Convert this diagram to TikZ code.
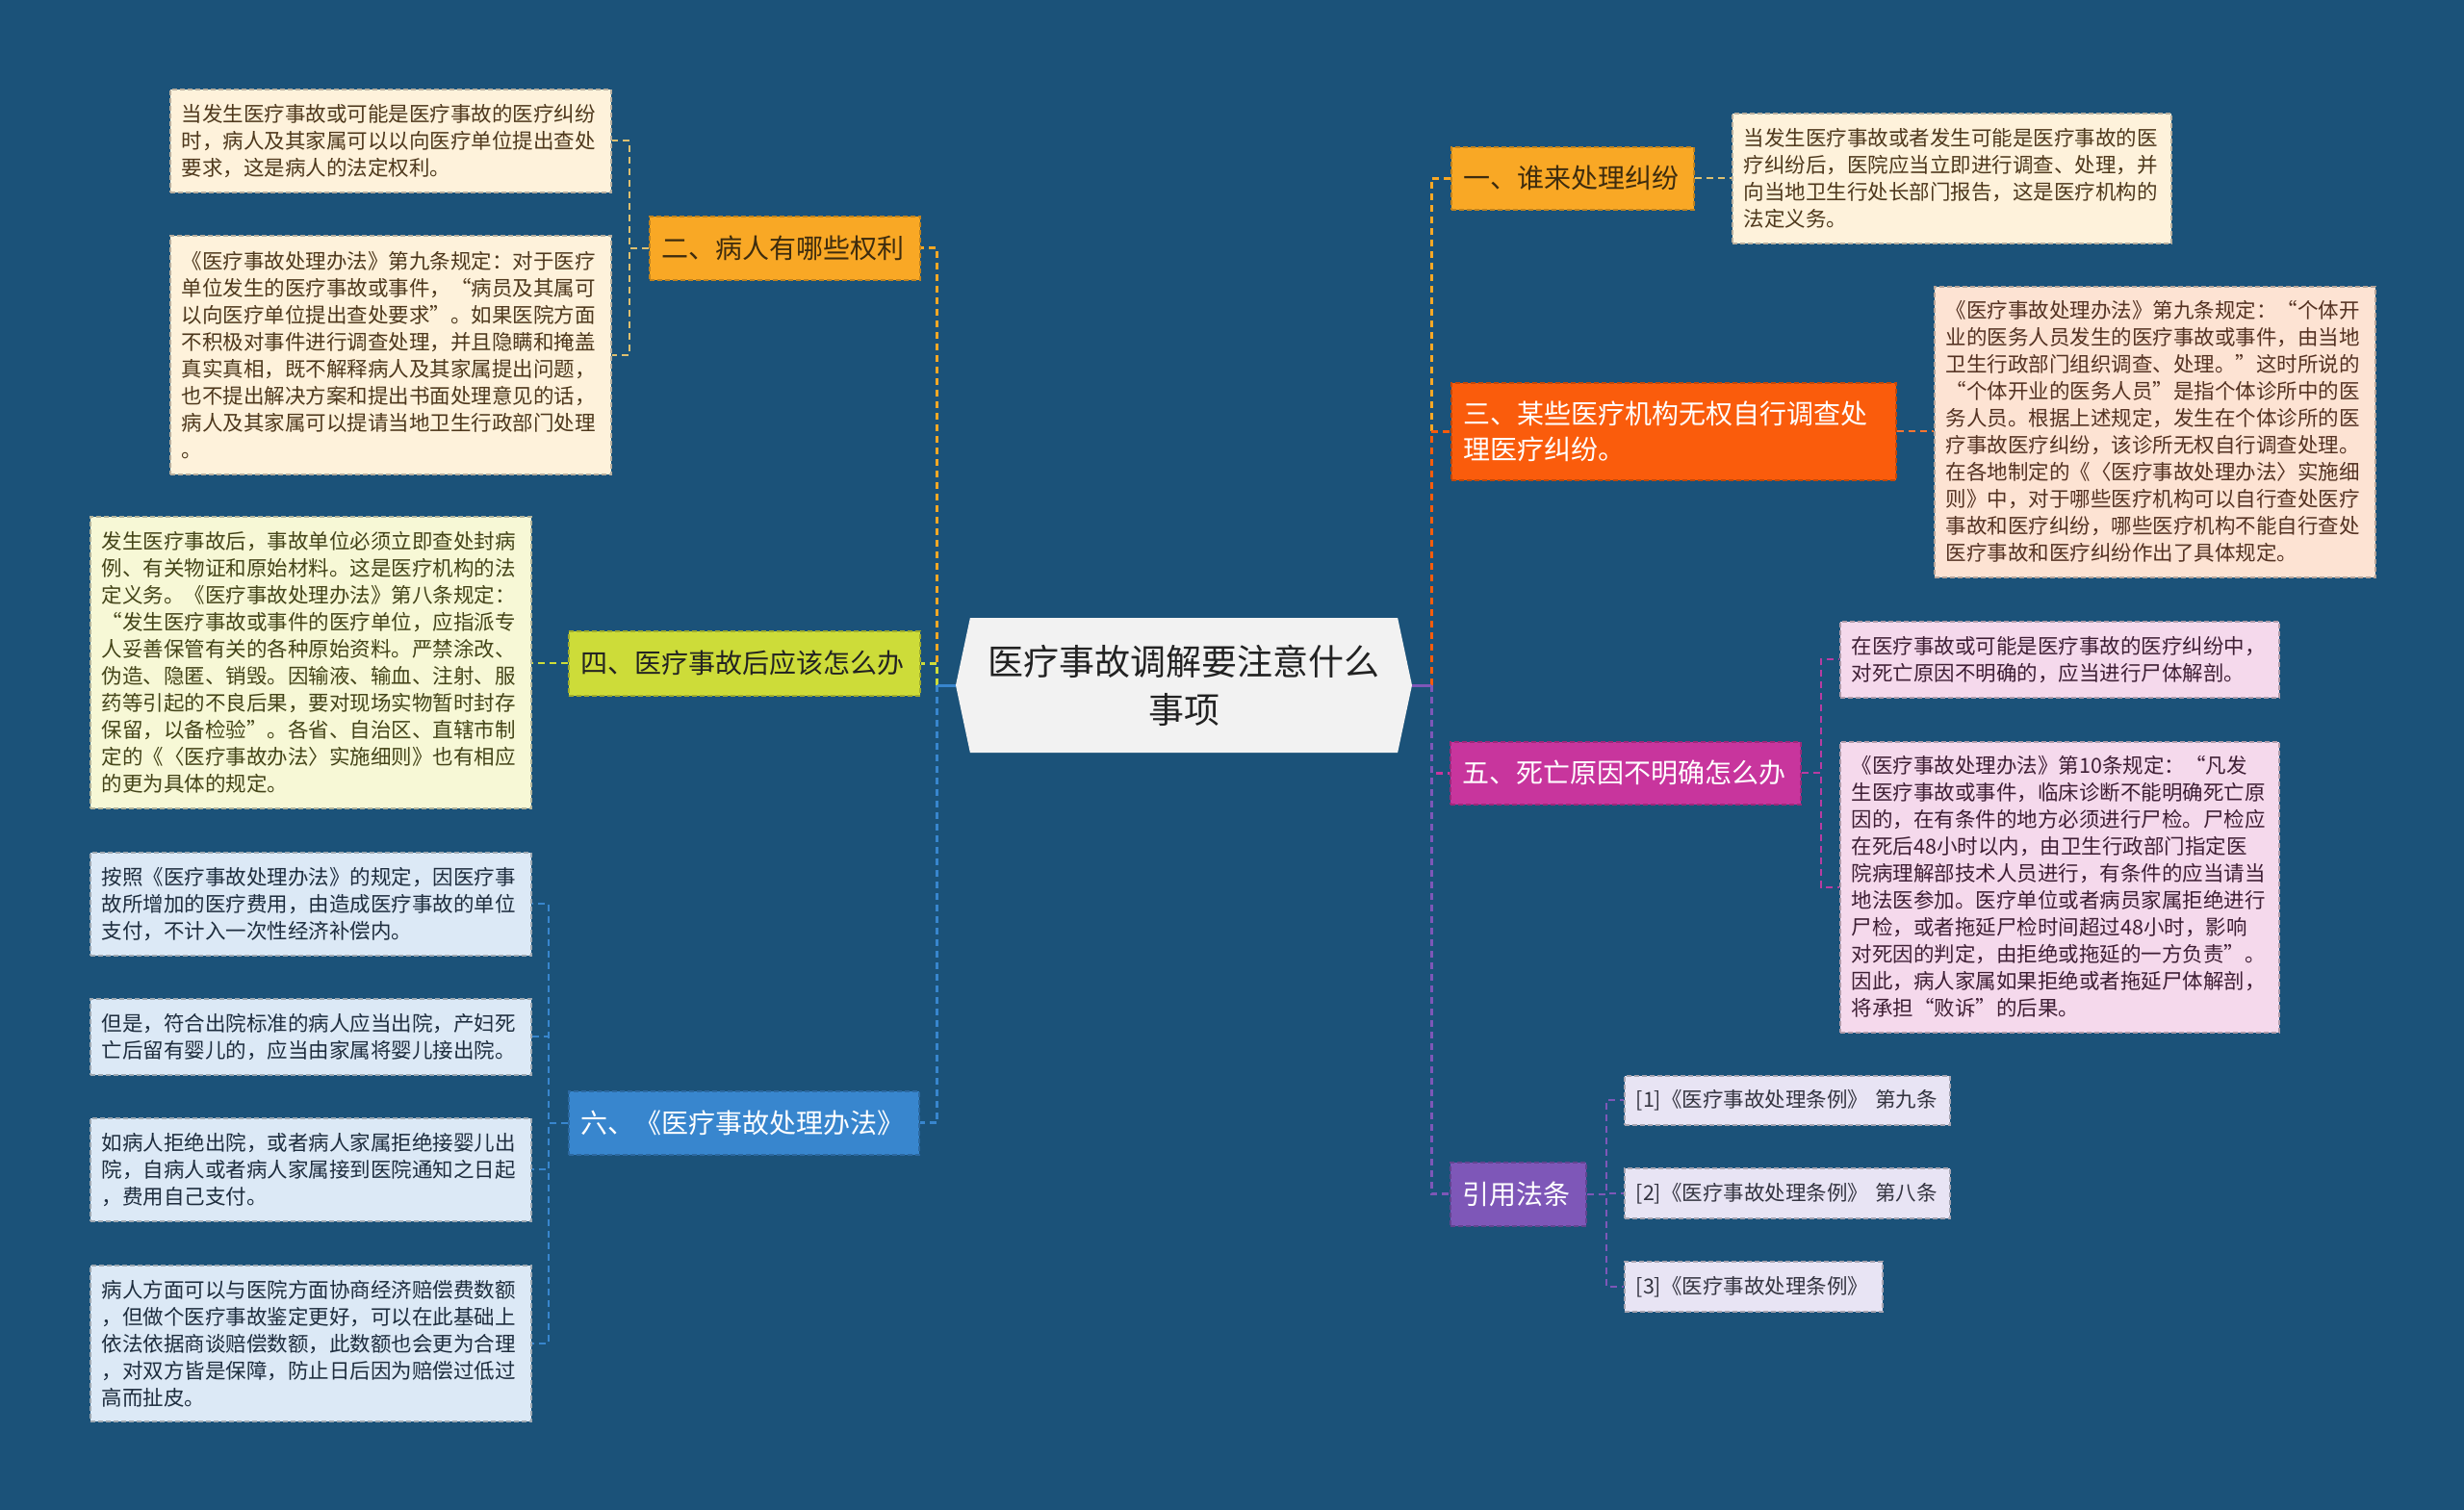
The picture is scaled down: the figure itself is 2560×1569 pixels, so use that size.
\documentclass[tikz,border=0pt]{standalone}
\usepackage{fontspec}
\setmainfont{Noto Sans CJK SC}
\usetikzlibrary{shapes.symbols}
\definecolor{bgc}{RGB}{27,82,121}
\definecolor{rootfill}{RGB}{242,242,242}
\definecolor{roottext}{RGB}{34,34,34}
\definecolor{cone}{RGB}{249,168,37}
\definecolor{cthree}{RGB}{250,92,12}
\definecolor{cfour}{RGB}{205,220,57}
\definecolor{cfive}{RGB}{200,53,157}
\definecolor{csix}{RGB}{56,134,206}
\definecolor{cseven}{RGB}{126,87,184}
\definecolor{subone}{RGB}{222,192,112}
\definecolor{fA}{RGB}{254,242,219}
\definecolor{tA}{RGB}{78,56,28}
\definecolor{fR}{RGB}{253,227,211}
\definecolor{tR}{RGB}{84,50,34}
\definecolor{fB}{RGB}{247,248,214}
\definecolor{tB}{RGB}{68,68,24}
\definecolor{fC}{RGB}{220,233,246}
\definecolor{tC}{RGB}{30,45,62}
\definecolor{fP}{RGB}{245,217,236}
\definecolor{tP}{RGB}{62,30,52}
\definecolor{fL}{RGB}{232,228,244}
\definecolor{tL}{RGB}{52,52,64}
\definecolor{tdark}{RGB}{62,44,14}
\tikzset{
  leaf/.style={anchor=north west, inner xsep=12pt, inner ysep=0pt, align=left,
    font=\fontsize{21.5pt}{28pt}\selectfont, line width=1.5pt, dash pattern=on 5pt off 3pt},
  leafA/.style={leaf, fill=fA, draw=fA!72!black, text=tA},
  leafR/.style={leaf, fill=fR, draw=fR!72!black, text=tR},
  leafB/.style={leaf, fill=fB, draw=fB!72!black, text=tB},
  leafC/.style={leaf, fill=fC, draw=fC!72!black, text=tC},
  leafP/.style={leaf, fill=fP, draw=fP!72!black, text=tP},
  leafL/.style={leaf, fill=fL, draw=fL!72!black, text=tL},
  branch/.style={anchor=north west, inner xsep=13pt, inner ysep=0pt, align=left,
    font=\fontsize{28pt}{37pt}\selectfont, line width=1.5pt, dash pattern=on 5pt off 3pt,
    fill=#1, draw=#1!78!black},
  rootnode/.style={signal, signal to=east and west, signal pointer angle=156,
    fill=rootfill, text=roottext, align=center, inner sep=0pt,
    minimum width=474pt, minimum height=140pt, font=\fontsize{37pt}{50pt}\selectfont},
  trunk/.style={line width=3pt, dash pattern=on 7pt off 5pt},
  sub/.style={line width=2pt, dash pattern=on 7pt off 5pt},
  stub/.style={line width=3pt}
}
\begin{document}
\begin{tikzpicture}[x=1pt,y=-1pt]
\fill[bgc] (0,0) rectangle (2560,1569);
\useasboundingbox (0,0) rectangle (2560,1569);

% root
\node[rootnode] (root) at (1230,712) {医疗事故调解要注意什么\\事项};

% first-level branches
\node[branch=cone, text=tdark, text width=226pt, minimum height=65pt] (n1) at (1507,152) {一、谁来处理纠纷};
\node[branch=cone, text=tdark, text width=255pt, minimum height=66pt] (n2) at (674,224) {二、病人有哪些权利};
\node[branch=cthree, text=white, text width=436pt, minimum height=101pt] (n3) at (1507,397) {三、某些医疗机构无权自行调查处\\理医疗纠纷。};
\node[branch=cfour, text=roottext, text width=339pt, minimum height=67pt] (n4) at (590,655) {四、医疗事故后应该怎么办};
\node[branch=cfive, text=white, text width=338pt, minimum height=65pt] (n5) at (1506,770) {五、死亡原因不明确怎么办};
\node[branch=csix, text=white, text width=338pt, minimum height=66pt] (n6) at (590,1133) {六、《医疗事故处理办法》};
\node[branch=cseven, text=white, text width=115pt, minimum height=66pt] (n7) at (1506,1207) {引用法条};

% leaves
\node[leafA, text width=434pt, minimum height=107pt] (a1) at (176,92) {当发生医疗事故或可能是医疗事故的医疗纠纷\\时，病人及其家属可以以向医疗单位提出查处\\要求，这是病人的法定权利。};
\node[leafA, text width=434pt, minimum height=248pt] (a2) at (176,244) {《医疗事故处理办法》第九条规定：对于医疗\\单位发生的医疗事故或事件，“病员及其属可\\以向医疗单位提出查处要求”。如果医院方面\\不积极对事件进行调查处理，并且隐瞒和掩盖\\真实真相，既不解释病人及其家属提出问题，\\也不提出解决方案和提出书面处理意见的话，\\病人及其家属可以提请当地卫生行政部门处理\\。};
\node[leafB, text width=434pt, minimum height=303pt] (b) at (93,536) {发生医疗事故后，事故单位必须立即查处封病\\例、有关物证和原始材料。这是医疗机构的法\\定义务。《医疗事故处理办法》第八条规定：\\“发生医疗事故或事件的医疗单位，应指派专\\人妥善保管有关的各种原始资料。严禁涂改、\\伪造、隐匿、销毁。因输液、输血、注射、服\\药等引起的不良后果，要对现场实物暂时封存\\保留，以备检验”。各省、自治区、直辖市制\\定的《〈医疗事故办法〉实施细则》也有相应\\的更为具体的规定。};
\node[leafC, text width=434pt, minimum height=107pt] (c1) at (93,885) {按照《医疗事故处理办法》的规定，因医疗事\\故所增加的医疗费用，由造成医疗事故的单位\\支付，不计入一次性经济补偿内。};
\node[leafC, text width=434pt, minimum height=79pt] (c2) at (93,1037) {但是，符合出院标准的病人应当出院，产妇死\\亡后留有婴儿的，应当由家属将婴儿接出院。};
\node[leafC, text width=434pt, minimum height=107pt] (c3) at (93,1161) {如病人拒绝出院，或者病人家属拒绝接婴儿出\\院，自病人或者病人家属接到医院通知之日起\\，费用自己支付。};
\node[leafC, text width=434pt, minimum height=162pt] (c4) at (93,1314) {病人方面可以与医院方面协商经济赔偿费数额\\，但做个医疗事故鉴定更好，可以在此基础上\\依法依据商谈赔偿数额，此数额也会更为合理\\，对双方皆是保障，防止日后因为赔偿过低过\\高而扯皮。};
\node[leafA, text width=432pt, minimum height=135pt] (r1) at (1799,117) {当发生医疗事故或者发生可能是医疗事故的医\\疗纠纷后，医院应当立即进行调查、处理，并\\向当地卫生行处长部门报告，这是医疗机构的\\法定义务。};
\node[leafR, text width=434pt, minimum height=302pt] (r3) at (2009,297) {《医疗事故处理办法》第九条规定：“个体开\\业的医务人员发生的医疗事故或事件，由当地\\卫生行政部门组织调查、处理。”这时所说的\\“个体开业的医务人员”是指个体诊所中的医\\务人员。根据上述规定，发生在个体诊所的医\\疗事故医疗纠纷，该诊所无权自行调查处理。\\在各地制定的《〈医疗事故处理办法〉实施细\\则》中，对于哪些医疗机构可以自行查处医疗\\事故和医疗纠纷，哪些医疗机构不能自行查处\\医疗事故和医疗纠纷作出了具体规定。};
\node[leafP, text width=432pt, minimum height=79pt] (p1) at (1911,645) {在医疗事故或可能是医疗事故的医疗纠纷中，\\对死亡原因不明确的，应当进行尸体解剖。};
\node[leafP, text width=432pt, minimum height=302pt] (p2) at (1911,770) {《医疗事故处理办法》第10条规定：“凡发\\生医疗事故或事件，临床诊断不能明确死亡原\\因的，在有条件的地方必须进行尸检。尸检应\\在死后48小时以内，由卫生行政部门指定医\\院病理解部技术人员进行，有条件的应当请当\\地法医参加。医疗单位或者病员家属拒绝进行\\尸检，或者拖延尸检时间超过48小时，影响\\对死因的判定，由拒绝或拖延的一方负责”。\\因此，病人家属如果拒绝或者拖延尸体解剖，\\将承担“败诉”的后果。};
\node[leafL, text width=314pt, minimum height=51pt] (l1) at (1687,1117) {[1]《医疗事故处理条例》~第九条};
\node[leafL, text width=314pt, minimum height=52pt] (l2) at (1687,1213) {[2]《医疗事故处理条例》~第八条};
\node[leafL, text width=244pt, minimum height=52pt] (l3) at (1687,1310) {[3]《医疗事故处理条例》};

% trunk connectors (right)
\draw[trunk, cone] (root.east) ++(20,0) |- (n1.west);
\draw[trunk, cthree] (root.east) ++(20,0) |- (n3.west);
\draw[trunk, cfive] (root.east) ++(20,0) |- (n5.west);
\draw[trunk, cseven] (root.east) ++(20,0) |- (n7.west);
\draw[stub, cseven] (root.east) -- ++(20,0);
% trunk connectors (left)
\draw[trunk, cone] (root.west) ++(-19,0) |- (n2.east);
\draw[trunk, cfour] (root.west) ++(-19,0) |- (n4.east);
\draw[trunk, csix] (root.west) ++(-19,0) |- (n6.east);
\draw[stub, csix] (root.west) -- ++(-19,0);

% leaf connectors
\draw[sub, subone] (n1.east) -- (r1.west);
\draw[sub, cthree!85!white] (n3.east) -- (r3.west |- n3.east);
\draw[sub, subone] (n2.west) -- ++(-20,0) |- (a1.east);
\draw[sub, subone] (n2.west) -- ++(-20,0) |- (a2.east);
\draw[sub, cfour] (n4.west) -- (b.east |- n4.west);
\draw[sub, csix] (n6.west) -- ++(-20,0) |- (c1.east);
\draw[sub, csix] (n6.west) -- ++(-20,0) |- (c2.east);
\draw[sub, csix] (n6.west) -- ++(-20,0) |- (c3.east);
\draw[sub, csix] (n6.west) -- ++(-20,0) |- (c4.east);
\draw[sub, cfive!80!cseven] (n5.east) -- ++(20,0) |- (p1.west);
\draw[sub, cfive!80!cseven] (n5.east) -- ++(20,0) |- (p2.west);
\draw[sub, cseven] (n7.east) -- ++(20,0) |- (l1.west);
\draw[sub, cseven] (n7.east) -- ++(20,0) |- (l2.west);
\draw[sub, cseven] (n7.east) -- ++(20,0) |- (l3.west);
\end{tikzpicture}
\end{document}
